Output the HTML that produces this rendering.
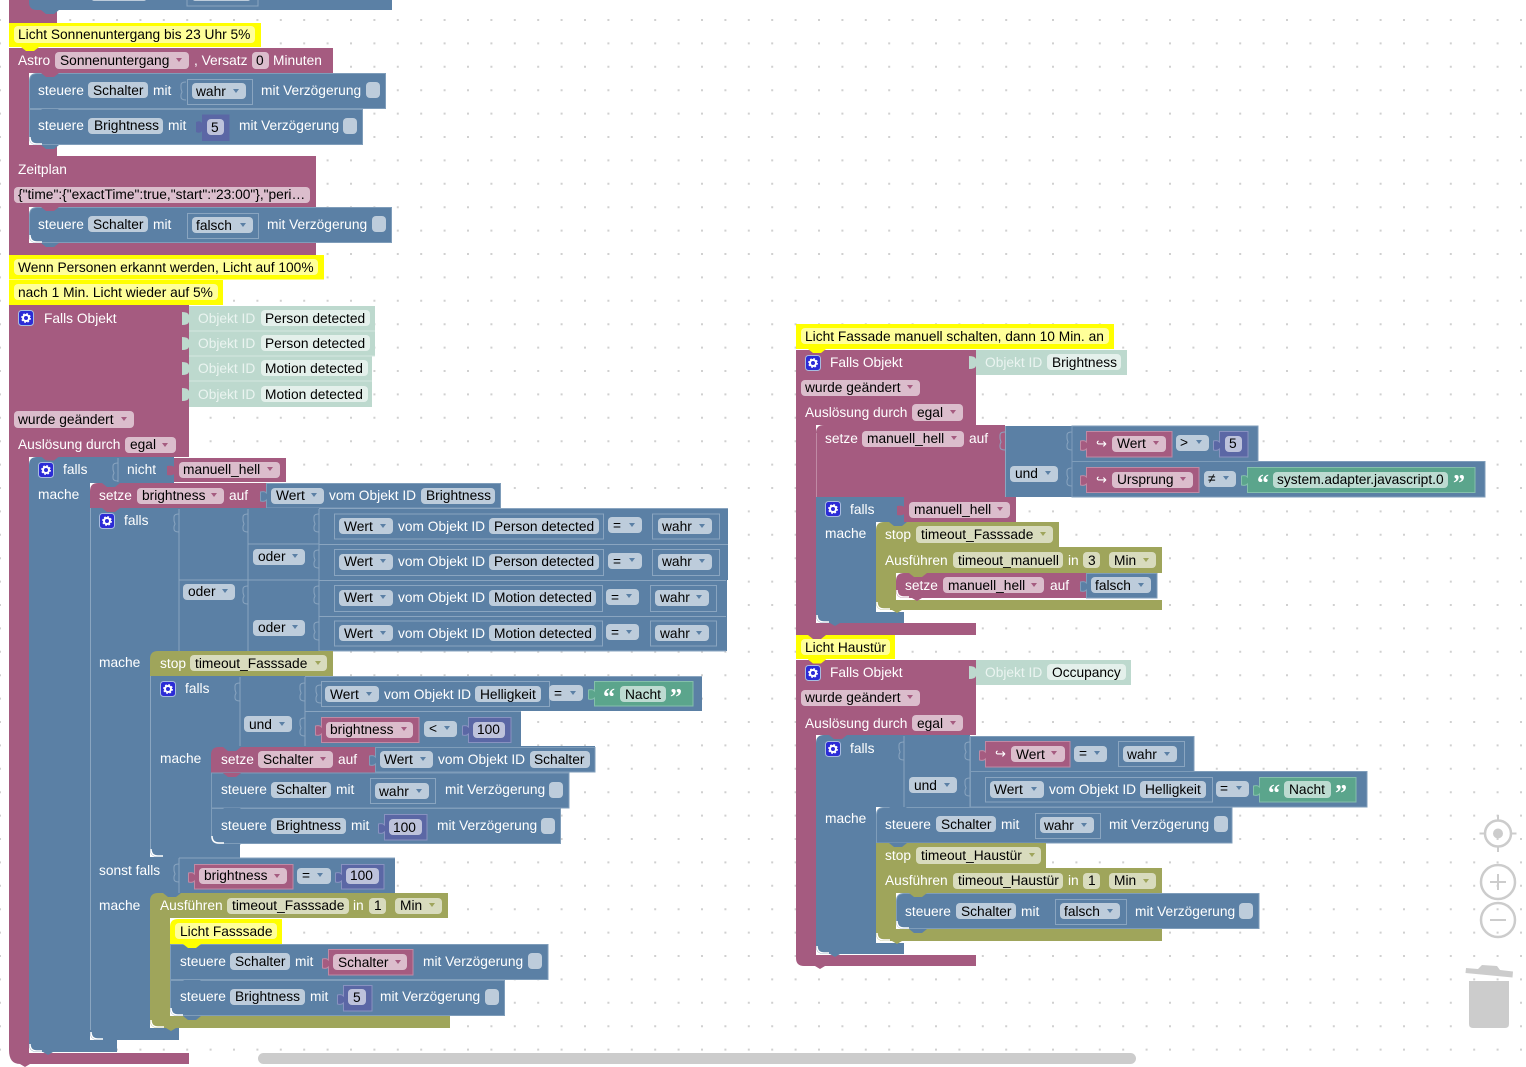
<!DOCTYPE html>
<html><head><meta charset="utf-8"><style>
html,body{margin:0;padding:0;background:#fff;width:1526px;height:1067px;overflow:hidden}
svg{display:block}
text{font:13.75px "Liberation Sans",Arial,sans-serif;fill:#000;white-space:pre}
.w{fill:#fff}.t{fill:#eaf4f0}
.q{font:bold 24px "Liberation Serif",serif;fill:#fff}
.p{fill:#a55b80}.b{fill:#5b80a5}.o{fill:#9fa55b}.y{fill:#ff0}.tl{fill:#bdd9ce}.n{fill:#5b67a5}.g{fill:#5ba58c}
.s{stroke:#7f9dba;stroke-width:1}
.sp{stroke:#c08aa5;stroke-width:1}
.sn{stroke:#8892c0;stroke-width:1}
.sg{stroke:#84c0ab;stroke-width:1}
.bx{fill:#5b80a5;stroke:#8aa5c0;stroke-width:1}
.pb{fill:#bdccdb}.pp{fill:#dbbdcc}.po{fill:#d8dbbd}.pt{fill:#e4f0eb}.py{fill:#ffff99}.pn{fill:#bdc2db}.pg{fill:#bddbd1}
.ab{fill:#5b80a5}.ap{fill:#a55b80}.ao{fill:#9fa55b}
.tb{fill:none;stroke:#8aa5c0;stroke-width:1}
.lin{stroke:#8aa5c0;stroke-width:1;fill:none}
.hl{stroke:#fff;stroke-width:1.5;fill:none}
.c{fill:#ccc}.cs{fill:none;stroke:#ccc}
</style></head><body>
<svg width="1526" height="1067" viewBox="0 0 1526 1067" xmlns="http://www.w3.org/2000/svg">
<defs>
<path id="a" d="M-3,-2H3L0,2z"/>
<path id="bump" d="M0,0l5,4h8l5,-4z"/>
<path id="tab" d="M0,0c-3,0-5,1-5,3v3c0,2 1,3 1,4s-1,1-1,3v2c0,2 2,3 5,3"/>
<g id="gear"><rect x="0.500" y="0.500" width="15" height="15" rx="3" fill="#2b2bd6" stroke="#a8bce0"/><circle cx="8" cy="8" r="3" fill="none" stroke="#fff" stroke-width="2"/><circle cx="8" cy="8" r="4.300" fill="none" stroke="#fff" stroke-width="1.200" stroke-dasharray="1.800 1.600"/></g>
</defs>
<path transform="translate(0,.4)" fill="none" stroke="#d0d0d0" stroke-width="2" stroke-dasharray="2 21.4" d="M-1,19.6H1526M-1,43H1526M-1,66.4H1526M-1,89.8H1526M-1,113.2H1526M-1,136.6H1526M-1,160H1526M-1,183.4H1526M-1,206.8H1526M-1,230.2H1526M-1,253.6H1526M-1,277H1526M-1,300.4H1526M-1,323.8H1526M-1,347.2H1526M-1,370.6H1526M-1,394H1526M-1,417.4H1526M-1,440.8H1526M-1,464.2H1526M-1,487.6H1526M-1,511H1526M-1,534.4H1526M-1,557.8H1526M-1,581.2H1526M-1,604.6H1526M-1,628H1526M-1,651.4H1526M-1,674.8H1526M-1,698.2H1526M-1,721.6H1526M-1,745H1526M-1,768.4H1526M-1,791.8H1526M-1,815.2H1526M-1,838.6H1526M-1,862H1526M-1,885.4H1526M-1,908.8H1526M-1,932.2H1526M-1,955.6H1526M-1,979H1526M-1,1002.4H1526M-1,1025.8H1526M-1,1049.2H1526"/>

<!-- LEFT: top remainder -->
<rect class="p" x="9" y="0" width="48" height="23"/>
<path class="b" d="M29,0H392V10H37Q29,10 29,2z"/>
<use href="#bump" x="41" y="10" class="b"/>
<rect class="bx" x="187" y="-6" width="71" height="12"/>
<rect class="pb" x="92" y="-4" width="54" height="5" rx="2"/>
<rect class="pb" x="193" y="-4" width="57" height="5" rx="2"/>

<!-- Astro body -->
<path class="p" d="M9,48H333V73H29V145H57V157H9z"/>
<rect class="y" x="9" y="23" width="252" height="24"/>
<use href="#bump" x="21" y="47" class="y"/>
<rect class="py" x="14" y="26" width="241" height="17" rx="4"/>
<text x="18" y="39">Licht Sonnenuntergang bis 23 Uhr 5%</text>
<text class="w" x="18" y="65">Astro</text>
<rect class="pp" x="55" y="52" width="134" height="17" rx="4"/><text x="60" y="65">Sonnenuntergang</text><use href="#a" x="179" y="60" class="ap"/>
<text class="w" x="194" y="65">, Versatz</text>
<rect class="pp" x="252" y="52" width="17" height="17" rx="4"/><text x="256" y="65">0</text>
<text class="w" x="273" y="65">Minuten</text>

<!-- steuere 1 -->
<path class="b s" d="M29.5,81Q29.5,73.5 37,73.5H385.5V108.5H29.5z"/>
<use href="#bump" x="41" y="73" class="p"/>
<text class="w" x="38" y="95">steuere</text>
<rect class="pb" x="88" y="82" width="60" height="16" rx="4"/><text x="93" y="95">Schalter</text>
<text class="w" x="153" y="95">mit</text>
<use href="#tab" x="186" y="82" class="tb"/>
<rect class="bx" x="187.5" y="79.5" width="65" height="25"/>
<rect class="pb" x="192" y="83" width="54" height="16" rx="4"/><text x="196" y="96">wahr</text><use href="#a" x="236" y="91" class="ab"/>
<text class="w" x="261" y="95">mit Verzögerung</text>
<rect class="pb" x="366" y="82" width="14" height="16" rx="4"/>
<!-- steuere 2 -->
<path class="b s" d="M29.5,109.5H362.5V144.5H37Q29.5,144.5 29.5,137z"/>
<path class="hl" d="M30,137Q30,144 37,144H42"/>
<use href="#bump" x="41" y="109" class="b"/><use href="#bump" x="41" y="145" class="b"/>
<text class="w" x="38" y="130">steuere</text>
<rect class="pb" x="88" y="118" width="75" height="16" rx="4"/><text x="94" y="130">Brightness</text>
<text class="w" x="168" y="130">mit</text>
<path class="n" d="M202,114.5H229.5V141H202V131q-2,3-6,1v-10q4,-2 6,1z"/>
<rect class="pn" x="207" y="119" width="17" height="16" rx="4"/><text x="211" y="132">5</text>
<text class="w" x="239" y="130">mit Verzögerung</text>
<rect class="pb" x="343" y="118" width="14" height="16" rx="4"/>

<!-- Zeitplan -->
<path class="p" d="M9,156H316V207H29V243H316V255H9z"/>
<use href="#bump" x="21" y="255" class="p"/>
<text class="w" x="18" y="174">Zeitplan</text>
<rect class="pp" x="14" y="187" width="296" height="16" rx="4"/><text x="18" y="199">{"time":{"exactTime":true,"start":"23:00"},"peri…</text>
<path class="b s" d="M29.5,215Q29.5,207.5 37,207.5H391.5V242.5H37Q29.5,242.5 29.5,235z"/>
<path class="hl" d="M30,235Q30,242 37,242H42"/>
<use href="#bump" x="41" y="207" class="p"/><use href="#bump" x="41" y="243" class="b"/>
<text class="w" x="38" y="229">steuere</text>
<rect class="pb" x="88" y="216" width="60" height="16" rx="4"/><text x="93" y="229">Schalter</text>
<text class="w" x="153" y="229">mit</text>
<rect class="bx" x="187.5" y="213.5" width="71" height="25"/>
<rect class="pb" x="192" y="217" width="61" height="16" rx="4"/><text x="196" y="230">falsch</text><use href="#a" x="243" y="225" class="ab"/>
<text class="w" x="267" y="229">mit Verzögerung</text>
<rect class="pb" x="372" y="216" width="14" height="16" rx="4"/>

<!-- comments -->
<rect class="y" x="9" y="255" width="315" height="24.5"/>
<rect class="py" x="14" y="259" width="304" height="16" rx="4"/><text x="18" y="272">Wenn Personen erkannt werden, Licht auf 100%</text>
<rect class="y" x="9" y="280" width="214" height="25"/>
<rect class="py" x="14" y="284" width="204" height="16" rx="4"/><text x="18" y="297">nach 1 Min. Licht wieder auf 5%</text>
<use href="#bump" x="21" y="305" class="y"/>

<!-- Big Falls Objekt -->
<path class="p" d="M9,305H189V457H29V1053H189V1064H30l-5,3-5,-3Q9,1064 9,1050z"/>
<use href="#gear" x="18" y="310"/>
<text class="w" x="44" y="323">Falls Objekt</text>
<g>
<path class="tl" d="M189,306H375V331H189V322q-1,3-7,3v-13q6,0 7,3z"/>
<path class="tl" d="M189,331H375V356H189V347q-1,3-7,3v-13q6,0 7,3z"/>
<path class="tl" d="M189,356H372V381H189V372q-1,3-7,3v-13q6,0 7,3z"/>
<path class="tl" d="M189,381H372V407H189V398q-1,3-7,3v-13q6,0 7,3z"/>
<path d="M189,331H375M189,356H375M189,381H372" stroke="#d5e8e0" fill="none"/>
<text class="t" x="198" y="323">Objekt ID</text><rect class="pt" x="261" y="310" width="109" height="16" rx="4"/><text x="265" y="323">Person detected</text>
<text class="t" x="198" y="348">Objekt ID</text><rect class="pt" x="261" y="335" width="109" height="16" rx="4"/><text x="265" y="348">Person detected</text>
<text class="t" x="198" y="373">Objekt ID</text><rect class="pt" x="261" y="360" width="107" height="16" rx="4"/><text x="265" y="373">Motion detected</text>
<text class="t" x="198" y="399">Objekt ID</text><rect class="pt" x="261" y="386" width="107" height="16" rx="4"/><text x="265" y="399">Motion detected</text>
</g>
<rect class="pp" x="14" y="411" width="120" height="17" rx="4"/><text x="18" y="424">wurde geändert</text><use href="#a" x="124" y="419" class="ap"/>
<text class="w" x="18" y="449">Auslösung durch</text>
<rect class="pp" x="125" y="437" width="51" height="16" rx="4"/><text x="130" y="449">egal</text><use href="#a" x="165" y="445" class="ap"/>

<!-- falls 1 -->
<path class="b" d="M29,465Q29,457 37,457H174V483H90V1040H117V1052H53l-5,3-5,-3H37Q29,1052 29,1044z"/>
<path class="hl" d="M30,1044Q30,1051 37,1051H42"/>
<path class="lin" d="M118,458V482"/>
<use href="#tab" x="118" y="463" class="tb"/>
<use href="#bump" x="41" y="456.5" class="p"/>
<use href="#gear" x="38" y="462"/>
<text class="w" x="63" y="474">falls</text>
<text class="w" x="127" y="474">nicht</text>
<path class="p" d="M174,458H286V482H174V474q-2,2-7,1v-9q5,-1 7,1z"/>
<rect class="pp" x="179" y="462" width="101" height="16" rx="4"/><text x="183" y="474">manuell_hell</text><use href="#a" x="270" y="469" class="ap"/>
<text class="w" x="38" y="499">mache</text>

<!-- setze brightness -->
<path class="p" d="M90,491Q90,483 98,483H266V508H90z"/>
<use href="#bump" x="102" y="483" class="b"/>
<text class="w" x="99" y="500">setze</text>
<rect class="pp" x="137" y="488" width="87" height="16" rx="4"/><text x="142" y="500">brightness</text><use href="#a" x="214" y="495" class="ap"/>
<text class="w" x="229" y="500">auf</text>
<path class="b s" d="M266.5,483.5H500.5V508H266.5V500q-2,2-6,1v-9q4,-1 6,1z"/>
<rect class="pb" x="271" y="488" width="53" height="16" rx="4"/><text x="276" y="500">Wert</text><use href="#a" x="314" y="495" class="ab"/>
<text class="w" x="329" y="500">vom Objekt ID</text>
<rect class="pb" x="421" y="488" width="74" height="16" rx="4"/><text x="426" y="500">Brightness</text>

<!-- falls 2 body -->
<path class="b" d="M90,508H728V651H333V676H150V1028H179V1040H114l-5,3-5,-3H98Q90,1040 90,1032z"/>
<path class="hl" d="M91,1032Q91,1039 98,1039H103"/>
<use href="#bump" x="102" y="508" class="p"/>
<path class="lin" d="M90.500,508V1030M179,509V651M248,509V651M319,509V651M179,580H319M248,544H319M319,508.500H728M319,544.500H728M319,580.500H726M319,616.500H726M319,651H726"/>
<rect fill="#fff" x="727" y="580" width="2" height="72"/>
<use href="#tab" x="179" y="514" class="tb"/><use href="#tab" x="248" y="514" class="tb"/><use href="#tab" x="319" y="514" class="tb"/>
<use href="#tab" x="248" y="586" class="tb"/><use href="#tab" x="319" y="550" class="tb"/><use href="#tab" x="319" y="586" class="tb"/><use href="#tab" x="319" y="622" class="tb"/>
<use href="#gear" x="99" y="513"/>
<text class="w" x="124" y="525">falls</text>
<rect class="pb" x="253" y="549" width="52" height="16" rx="4"/><text x="258" y="561">oder</text><use href="#a" x="295" y="556" class="ab"/>
<rect class="pb" x="183" y="584" width="52" height="16" rx="4"/><text x="188" y="596">oder</text><use href="#a" x="225" y="591" class="ab"/>
<rect class="pb" x="253" y="620" width="52" height="16" rx="4"/><text x="258" y="632">oder</text><use href="#a" x="295" y="627" class="ab"/>

<!-- row 1 -->
<rect class="bx" x="334.500" y="514" width="269" height="25"/>
<rect class="pb" x="339" y="518" width="54" height="16" rx="4"/><text x="344" y="531">Wert</text><use href="#a" x="383" y="526" class="ab"/>
<text class="w" x="398" y="531">vom Objekt ID</text>
<rect class="pb" x="489" y="518" width="110" height="16" rx="4"/><text x="494" y="531">Person detected</text>
<rect class="pb" x="608" y="517" width="34" height="16" rx="4"/><text x="613" y="530">=</text><use href="#a" x="632" y="525" class="ab"/>
<rect class="bx" x="652.500" y="514" width="67" height="25"/>
<rect class="pb" x="658" y="518" width="54" height="16" rx="4"/><text x="662" y="531">wahr</text><use href="#a" x="702" y="526" class="ab"/>
<!-- row 2 -->
<rect class="bx" x="334.500" y="549.500" width="269" height="26"/>
<rect class="pb" x="339" y="554" width="54" height="16" rx="4"/><text x="344" y="566">Wert</text><use href="#a" x="383" y="561" class="ab"/>
<text class="w" x="398" y="566">vom Objekt ID</text>
<rect class="pb" x="489" y="554" width="110" height="16" rx="4"/><text x="494" y="566">Person detected</text>
<rect class="pb" x="608" y="553" width="34" height="16" rx="4"/><text x="613" y="566">=</text><use href="#a" x="632" y="560" class="ab"/>
<rect class="bx" x="652.500" y="549.500" width="67" height="26"/>
<rect class="pb" x="658" y="554" width="54" height="16" rx="4"/><text x="662" y="566">wahr</text><use href="#a" x="702" y="561" class="ab"/>
<!-- row 3 -->
<rect class="bx" x="334.500" y="585.500" width="268" height="26"/>
<rect class="pb" x="339" y="590" width="54" height="16" rx="4"/><text x="344" y="602">Wert</text><use href="#a" x="383" y="597" class="ab"/>
<text class="w" x="398" y="602">vom Objekt ID</text>
<rect class="pb" x="489" y="590" width="107" height="16" rx="4"/><text x="494" y="602">Motion detected</text>
<rect class="pb" x="606" y="589" width="33" height="16" rx="4"/><text x="611" y="602">=</text><use href="#a" x="629" y="596" class="ab"/>
<rect class="bx" x="650.500" y="585.500" width="66" height="26"/>
<rect class="pb" x="655" y="590" width="54" height="16" rx="4"/><text x="660" y="602">wahr</text><use href="#a" x="699" y="597" class="ab"/>
<!-- row 4 -->
<rect class="bx" x="334.500" y="621" width="268" height="25"/>
<rect class="pb" x="339" y="625" width="54" height="16" rx="4"/><text x="344" y="638">Wert</text><use href="#a" x="383" y="633" class="ab"/>
<text class="w" x="398" y="638">vom Objekt ID</text>
<rect class="pb" x="489" y="625" width="107" height="16" rx="4"/><text x="494" y="638">Motion detected</text>
<rect class="pb" x="606" y="624" width="33" height="16" rx="4"/><text x="611" y="637">=</text><use href="#a" x="629" y="632" class="ab"/>
<rect class="bx" x="650.500" y="621" width="66" height="25"/>
<rect class="pb" x="655" y="625" width="54" height="16" rx="4"/><text x="660" y="638">wahr</text><use href="#a" x="699" y="633" class="ab"/>

<text class="w" x="99" y="667">mache</text>
<!-- stop -->
<path class="o" d="M150,659Q150,651 158,651H333V676H150z"/>
<use href="#bump" x="163" y="676" class="o"/>
<text class="w" x="160" y="668">stop</text>
<rect class="po" x="190" y="655" width="137" height="16" rx="4"/><text x="195" y="668">timeout_Fasssade</text><use href="#a" x="318" y="663" class="ao"/>

<!-- falls 3 -->
<path class="b" d="M150,676H702V711H521V746H595V772H569V808H561V844H240V857H174l-5,3-5,-3H158Q150,857 150,849z"/>
<path class="hl" d="M151,849Q151,856 158,856H163"/>
<path class="lin" d="M150.500,676V849M240,677V746M305,677V746M305,711.500H521M305,676.500H702"/>
<use href="#tab" x="240" y="683" class="tb"/><use href="#tab" x="305" y="683" class="tb"/><use href="#tab" x="305" y="718" class="tb"/><use href="#tab" x="321" y="685" class="tb"/>
<use href="#gear" x="160" y="681"/>
<text class="w" x="185" y="693">falls</text>
<rect class="pb" x="244" y="716" width="48" height="16" rx="4"/><text x="249" y="729">und</text><use href="#a" x="282" y="724" class="ab"/>
<rect class="bx" x="321.500" y="681.500" width="228" height="25"/>
<rect class="pb" x="325" y="686" width="54" height="16" rx="4"/><text x="330" y="699">Wert</text><use href="#a" x="369" y="694" class="ab"/>
<text class="w" x="384" y="699">vom Objekt ID</text>
<rect class="pb" x="475" y="686" width="66" height="16" rx="4"/><text x="480" y="699">Helligkeit</text>
<rect class="pb" x="549" y="685" width="34" height="16" rx="4"/><text x="554" y="698">=</text><use href="#a" x="573" y="693" class="ab"/>
<path class="g sg" d="M594.500,681.500H693V706H594.500V698q-2,2-6,1v-9q4,-1 6,1z"/>
<text class="q" x="603" y="705">“</text>
<rect class="pg" x="620" y="686" width="46" height="16" rx="4"/><text x="625" y="699">Nacht</text>
<text class="q" x="670" y="705">”</text>
<path class="p sp" d="M321.500,717.500H419V742.500H321.500V734q-2,2-6,1v-9q4,-1 6,1z"/>
<rect class="pp" x="326" y="722" width="87" height="16" rx="4"/><text x="330" y="734">brightness</text><use href="#a" x="404" y="729" class="ap"/>
<rect class="pb" x="424" y="721" width="33" height="16" rx="4"/><text x="429" y="733">&lt;</text><use href="#a" x="447" y="728" class="ab"/>
<path class="n sn" d="M468.500,717.500H511V742.500H468.500V734q-2,2-6,1v-9q4,-1 6,1z"/>
<rect class="pn" x="473" y="722" width="32" height="16" rx="4"/><text x="477" y="734">100</text>

<text class="w" x="160" y="763">mache</text>
<!-- setze Schalter -->
<path class="p" d="M211,755Q211,747 219,747H375V773H211z"/>
<use href="#bump" x="223" y="773" class="p"/>
<use href="#bump" x="223" y="747" class="b"/>
<text class="w" x="221" y="764">setze</text>
<rect class="pp" x="258" y="751" width="75" height="17" rx="4"/><text x="263" y="764">Schalter</text><use href="#a" x="323" y="759" class="ap"/>
<text class="w" x="338" y="764">auf</text>
<path class="b s" d="M375.500,747.500H595V772H375.500V764q-2,2-6,1v-9q4,-1 6,1z"/>
<rect class="pb" x="380" y="751" width="53" height="17" rx="4"/><text x="384" y="764">Wert</text><use href="#a" x="423" y="759" class="ab"/>
<text class="w" x="438" y="764">vom Objekt ID</text>
<rect class="pb" x="530" y="751" width="60" height="17" rx="4"/><text x="534" y="764">Schalter</text>
<!-- steuere 3 -->
<rect class="b s" x="211.500" y="773" width="357.500" height="35"/>
<use href="#bump" x="223" y="773" class="p"/>
<text class="w" x="221" y="794">steuere</text>
<rect class="pb" x="271" y="782" width="60" height="16" rx="4"/><text x="276" y="794">Schalter</text>
<text class="w" x="336" y="794">mit</text>
<rect class="bx" x="370.500" y="778.500" width="65" height="25"/>
<rect class="pb" x="375" y="783" width="54" height="16" rx="4"/><text x="379" y="796">wahr</text><use href="#a" x="419" y="791" class="ab"/>
<text class="w" x="445" y="794">mit Verzögerung</text>
<rect class="pb" x="549" y="782" width="14" height="16" rx="4"/>
<!-- steuere 4 -->
<path class="b s" d="M211.500,808.500H560.500V843.500H219Q211.500,843.500 211.500,836z"/>
<path class="hl" d="M212,836Q212,843 219,843H224"/>
<use href="#bump" x="223" y="808" class="b"/><use href="#bump" x="223" y="844" class="b"/>
<text class="w" x="221" y="830">steuere</text>
<rect class="pb" x="271" y="818" width="75" height="16" rx="4"/><text x="276" y="830">Brightness</text>
<text class="w" x="351" y="830">mit</text>
<path class="n sn" d="M384.500,814.500H427V840H384.500V832q-2,2-6,1v-9q4,-1 6,1z"/>
<rect class="pn" x="389" y="819" width="33" height="16" rx="4"/><text x="393" y="832">100</text>
<text class="w" x="437" y="830">mit Verzögerung</text>
<rect class="pb" x="541" y="818" width="14" height="16" rx="4"/>

<!-- sonst falls -->
<path class="b" d="M150,857H395V893H448V918H150z"/>
<rect class="b" x="90" y="851" width="60" height="60"/>
<path class="lin" d="M90.500,851V911"/>
<path fill="#fff" d="M240,844.500H410V858H240z"/>
<path class="b" d="M164,857l5,3 5,-3z"/>
<rect class="b" x="179" y="858" width="216" height="35"/>
<path class="lin" d="M179,858H395M179,858V893"/>
<use href="#tab" x="179" y="864" class="tb"/>
<text class="w" x="99" y="875">sonst falls</text>
<path class="p sp" d="M194.500,864.500H293V889H194.500V881q-2,2-6,1v-9q4,-1 6,1z"/>
<rect class="pp" x="199" y="868" width="88" height="16" rx="4"/><text x="204" y="880">brightness</text><use href="#a" x="277" y="876" class="ap"/>
<rect class="pb" x="297" y="868" width="34" height="16" rx="4"/><text x="302" y="880">=</text><use href="#a" x="320" y="875" class="ab"/>
<path class="n sn" d="M341.500,864.500H384V889H341.500V881q-2,2-6,1v-9q4,-1 6,1z"/>
<rect class="pn" x="346" y="868" width="33" height="16" rx="4"/><text x="350" y="880">100</text>

<text class="w" x="99" y="910">mache</text>
<!-- Ausführen -->
<path class="o" d="M150,901Q150,893 158,893H448V918H170V1016H450V1028H176l-5,3-5,-3H158Q150,1028 150,1020z"/>
<path class="hl" d="M151,1020Q151,1027 158,1027H164"/>
<use href="#bump" x="163" y="893" class="b"/>
<text class="w" x="160" y="910">Ausführen</text>
<rect class="po" x="227" y="898" width="122" height="16" rx="4"/><text x="232" y="910">timeout_Fasssade</text>
<text class="w" x="353" y="910">in</text>
<rect class="po" x="369" y="898" width="17" height="16" rx="4"/><text x="374" y="910">1</text>
<rect class="po" x="395" y="898" width="47" height="16" rx="4"/><text x="400" y="910">Min</text><use href="#a" x="432" y="905" class="ao"/>
<!-- comment -->
<path class="y" d="M170,927Q170,919 178,919H282V944H170z"/>
<rect class="py" x="175" y="923" width="102" height="16" rx="4"/><text x="180" y="936">Licht Fasssade</text>
<!-- steuere -->
<rect class="b s" x="170.500" y="944.500" width="377.500" height="35"/>
<use href="#bump" x="183" y="944" class="y"/>
<text class="w" x="180" y="966">steuere</text>
<rect class="pb" x="230" y="953" width="60" height="17" rx="4"/><text x="235" y="966">Schalter</text>
<text class="w" x="295" y="966">mit</text>
<path class="p sp" d="M328.500,949.500H413V975H328.500V967q-2,2-6,1v-9q4,-1 6,1z"/>
<rect class="pp" x="333" y="954" width="74" height="16" rx="4"/><text x="338" y="967">Schalter</text><use href="#a" x="398" y="962" class="ap"/>
<text class="w" x="423" y="966">mit Verzögerung</text>
<rect class="pb" x="528" y="953" width="14" height="16" rx="4"/>
<path class="b s" d="M170.500,980.500H504.500V1015.500H178Q170.500,1015.500 170.500,1008z"/>
<path class="hl" d="M171,1008Q171,1015 178,1015H183"/>
<use href="#bump" x="183" y="980" class="b"/><use href="#bump" x="183" y="1016" class="b"/>
<text class="w" x="180" y="1001">steuere</text>
<rect class="pb" x="230" y="989" width="75" height="16" rx="4"/><text x="235" y="1001">Brightness</text>
<text class="w" x="310" y="1001">mit</text>
<path class="n sn" d="M343.500,985.500H372V1011H343.500V1003q-2,2-6,1v-9q4,-1 6,1z"/>
<rect class="pn" x="348" y="989" width="18" height="16" rx="4"/><text x="353" y="1002">5</text>
<text class="w" x="380" y="1001">mit Verzögerung</text>
<rect class="pb" x="485" y="989" width="14" height="16" rx="4"/>

<!-- RIGHT GROUP 1 -->
<path class="p" d="M796,350H976V425H816V612V623H976V635H796z"/>
<rect class="y" x="796" y="324" width="318" height="25"/>
<use href="#bump" x="808" y="349" class="y"/>
<rect class="py" x="801" y="328" width="308" height="16" rx="4"/><text x="805" y="341">Licht Fassade manuell schalten, dann 10 Min. an</text>
<use href="#gear" x="805" y="355"/>
<text class="w" x="830" y="367">Falls Objekt</text>
<path class="tl" d="M976,350H1127V375H976V366q-1,3-7,3v-13q6,0 7,3z"/>
<text class="t" x="985" y="367">Objekt ID</text>
<rect class="pt" x="1047" y="354" width="74" height="16" rx="4"/><text x="1052" y="367">Brightness</text>
<rect class="pp" x="801" y="380" width="119" height="16" rx="4"/><text x="805" y="392">wurde geändert</text><use href="#a" x="910" y="387" class="ap"/>
<text class="w" x="805" y="417">Auslösung durch</text>
<rect class="pp" x="912" y="404" width="51" height="17" rx="4"/><text x="917" y="417">egal</text><use href="#a" x="953" y="412" class="ap"/>

<!-- setze manuell_hell -->
<path class="p" d="M816,433Q816,425 824,425H1005V497H816z"/>
<path class="sp" fill="none" d="M816.500,433V497"/>
<use href="#bump" x="829" y="425" class="p"/>
<text class="w" x="825" y="443">setze</text>
<rect class="pp" x="862" y="431" width="102" height="16" rx="4"/><text x="867" y="443">manuell_hell</text><use href="#a" x="954" y="438" class="ap"/>
<text class="w" x="969" y="443">auf</text>
<rect class="b" x="1005" y="426" width="67" height="71"/>
<path class="lin" d="M1005.500,426V497M1072,426V497"/>
<use href="#tab" x="1005" y="432" class="tb"/><use href="#tab" x="1072" y="432" class="tb"/><use href="#tab" x="1072" y="468" class="tb"/>
<rect class="pb" x="1010" y="466" width="48" height="16" rx="4"/><text x="1015" y="478">und</text><use href="#a" x="1048" y="473" class="ab"/>
<rect class="b s" x="1072" y="426" width="186" height="35.500"/>
<rect class="b s" x="1072" y="461.500" width="413" height="35.500"/>
<path class="p sp" d="M1086.500,431.500H1172V457H1086.500V449q-2,2-6,1v-9q4,-1 6,1z"/>
<text class="w" x="1096" y="448" style="font-size:13px">↪</text>
<rect class="pp" x="1112" y="436" width="54" height="16" rx="4"/><text x="1117" y="448">Wert</text><use href="#a" x="1156" y="443" class="ap"/>
<rect class="pb" x="1176" y="435" width="33" height="16" rx="4"/><text x="1180" y="447">&gt;</text><use href="#a" x="1199" y="442" class="ab"/>
<path class="n sn" d="M1219.500,431.500H1248V457H1219.500V449q-2,2-6,1v-9q4,-1 6,1z"/>
<rect class="pn" x="1225" y="436" width="17" height="16" rx="4"/><text x="1229" y="448">5</text>
<path class="p sp" d="M1086.500,467.500H1199V492.500H1086.500V484q-2,2-6,1v-9q4,-1 6,1z"/>
<text class="w" x="1096" y="484" style="font-size:13px">↪</text>
<rect class="pp" x="1112" y="472" width="81" height="16" rx="4"/><text x="1117" y="484">Ursprung</text><use href="#a" x="1183" y="479" class="ap"/>
<rect class="pb" x="1204" y="471" width="32" height="16" rx="4"/><text x="1208" y="483">≠</text><use href="#a" x="1226" y="478" class="ab"/>
<path class="g sg" d="M1247.500,467.500H1475V492.500H1247.500V484q-2,2-6,1v-9q4,-1 6,1z"/>
<text class="q" x="1257" y="491">“</text>
<rect class="pg" x="1273" y="472" width="175" height="16" rx="4"/><text x="1277" y="484">system.adapter.javascript.0</text>
<text class="q" x="1453" y="491">”</text>

<!-- falls right 1 -->
<path class="b" d="M816,497H904V522H876V612H904V623H840l-5,3-5,-3H824Q816,623 816,615z"/>
<path class="hl" d="M817,615Q817,622 824,622H829"/>
<use href="#gear" x="825" y="501"/>
<text class="w" x="850" y="514">falls</text>
<path class="p" d="M904,497H1016V522H904V514q-2,2-7,1v-9q5,-1 7,1z"/>
<rect class="pp" x="909" y="502" width="101" height="16" rx="4"/><text x="914" y="514">manuell_hell</text><use href="#a" x="1000" y="509" class="ap"/>
<text class="w" x="825" y="538">mache</text>
<path class="o" d="M876,530Q876,522 884,522H1059V547H876z"/>
<use href="#bump" x="889" y="522" class="b"/>
<text class="w" x="885" y="539">stop</text>
<rect class="po" x="916" y="526" width="137" height="17" rx="4"/><text x="921" y="539">timeout_Fasssade</text><use href="#a" x="1043" y="534" class="ao"/>
<path class="o" d="M876,547H1162V573H896V600H1162V610H902l-5,3-5,-3H884Q876,610 876,602z"/>
<path class="hl" d="M877,602Q877,609 884,609H890"/>
<use href="#bump" x="889" y="547" class="o"/>
<text class="w" x="885" y="565">Ausführen</text>
<rect class="po" x="953" y="552" width="110" height="16" rx="4"/><text x="958" y="565">timeout_manuell</text>
<text class="w" x="1068" y="565">in</text>
<rect class="po" x="1083" y="552" width="17" height="16" rx="4"/><text x="1088" y="565">3</text>
<rect class="po" x="1109" y="552" width="47" height="16" rx="4"/><text x="1114" y="565">Min</text><use href="#a" x="1146" y="560" class="ao"/>
<path class="p" d="M896,581Q896,573 904,573H1086V598H922l-5,3-5,-3H904Q896,598 896,590z"/>
<path class="hl" d="M897,590Q897,597 904,597H909"/>
<use href="#bump" x="909" y="573" class="o"/>
<text class="w" x="905" y="590">setze</text>
<rect class="pp" x="943" y="577" width="101" height="16" rx="4"/><text x="948" y="590">manuell_hell</text><use href="#a" x="1034" y="585" class="ap"/>
<text class="w" x="1050" y="590">auf</text>
<path class="b s" d="M1086.500,573.500H1157V598H1086.500V590q-2,2-6,1v-9q4,-1 6,1z"/>
<rect class="pb" x="1091" y="577" width="60" height="16" rx="4"/><text x="1095" y="590">falsch</text><use href="#a" x="1141" y="585" class="ab"/>

<!-- comment Haustuer -->
<rect class="y" x="796" y="635" width="99" height="24"/>
<use href="#bump" x="808" y="635" class="p"/>
<use href="#bump" x="808" y="659" class="y"/>
<rect class="py" x="801" y="639" width="89" height="16" rx="4"/><text x="805" y="652">Licht Haustür</text>

<!-- RIGHT GROUP 2 -->
<path class="p" d="M796,660H976V735H816V943V955H976V966H825l-5,3-5,-3H804Q796,966 796,958z"/>
<use href="#bump" x="808" y="659.500" class="y"/>
<use href="#gear" x="805" y="665"/>
<text class="w" x="830" y="677">Falls Objekt</text>
<path class="tl" d="M976,660H1131V685H976V676q-1,3-7,3v-13q6,0 7,3z"/>
<text class="t" x="985" y="677">Objekt ID</text>
<rect class="pt" x="1047" y="664" width="79" height="16" rx="4"/><text x="1052" y="677">Occupancy</text>
<rect class="pp" x="801" y="690" width="119" height="16" rx="4"/><text x="805" y="702">wurde geändert</text><use href="#a" x="910" y="697" class="ap"/>
<text class="w" x="805" y="728">Auslösung durch</text>
<rect class="pp" x="912" y="715" width="51" height="16" rx="4"/><text x="917" y="728">egal</text><use href="#a" x="953" y="723" class="ap"/>

<path class="b" d="M816,743Q816,735 824,735H970V807H876V943H904V954H840l-5,3-5,-3H824Q816,954 816,946z"/>
<path class="hl" d="M817,946Q817,953 824,953H829"/>
<use href="#bump" x="829" y="735" class="p"/>
<path class="lin" d="M904,736V807M970,736V807"/>
<use href="#tab" x="904" y="742" class="tb"/><use href="#tab" x="970" y="742" class="tb"/><use href="#tab" x="970" y="778" class="tb"/>
<use href="#gear" x="825" y="741"/>
<text class="w" x="850" y="753">falls</text>
<rect class="pb" x="909" y="777" width="48" height="16" rx="4"/><text x="914" y="790">und</text><use href="#a" x="947" y="785" class="ab"/>
<text class="w" x="825" y="823">mache</text>
<rect class="b s" x="970.500" y="736.500" width="223.500" height="35"/>
<rect class="b s" x="970.500" y="771.500" width="396.500" height="35.500"/>
<path class="p sp" d="M985.500,741.500H1070V767H985.500V759q-2,2-6,1v-9q4,-1 6,1z"/>
<text class="w" x="995" y="758" style="font-size:13px">↪</text>
<rect class="pp" x="1011" y="746" width="54" height="16" rx="4"/><text x="1016" y="759">Wert</text><use href="#a" x="1054" y="753" class="ap"/>
<rect class="pb" x="1074" y="746" width="33" height="16" rx="4"/><text x="1079" y="758">=</text><use href="#a" x="1097" y="753" class="ab"/>
<rect class="bx" x="1118.500" y="741.500" width="66" height="25"/>
<rect class="pb" x="1123" y="746" width="54" height="16" rx="4"/><text x="1127" y="759">wahr</text><use href="#a" x="1167" y="754" class="ab"/>
<rect class="bx" x="985.500" y="777.500" width="227" height="24.500"/>
<rect class="pb" x="990" y="781" width="54" height="17" rx="4"/><text x="994" y="794">Wert</text><use href="#a" x="1034" y="789" class="ab"/>
<text class="w" x="1049" y="794">vom Objekt ID</text>
<rect class="pb" x="1140" y="781" width="66" height="17" rx="4"/><text x="1145" y="794">Helligkeit</text>
<rect class="pb" x="1216" y="781" width="33" height="16" rx="4"/><text x="1220" y="793">=</text><use href="#a" x="1239" y="788" class="ab"/>
<path class="g sg" d="M1259.500,777.500H1356V802H1259.500V794q-2,2-6,1v-9q4,-1 6,1z"/>
<text class="q" x="1268" y="801">“</text>
<rect class="pg" x="1284" y="781" width="47" height="17" rx="4"/><text x="1289" y="794">Nacht</text>
<text class="q" x="1335" y="801">”</text>

<!-- steuere right -->
<path class="b s" d="M876.500,815Q876.500,807.500 884,807.500H1232V843H876.500z"/>
<use href="#bump" x="889" y="807" class="b"/>
<text class="w" x="885" y="829">steuere</text>
<rect class="pb" x="936" y="816" width="60" height="16" rx="4"/><text x="941" y="829">Schalter</text>
<text class="w" x="1001" y="829">mit</text>
<rect class="bx" x="1035.500" y="813.500" width="65" height="25"/>
<rect class="pb" x="1040" y="817" width="54" height="16" rx="4"/><text x="1044" y="830">wahr</text><use href="#a" x="1084" y="825" class="ab"/>
<text class="w" x="1109" y="829">mit Verzögerung</text>
<rect class="pb" x="1214" y="816" width="14" height="16" rx="4"/>
<rect class="o" x="876" y="843" width="170" height="25"/>
<use href="#bump" x="889" y="843" class="b"/>
<text class="w" x="885" y="860">stop</text>
<rect class="po" x="916" y="847" width="125" height="17" rx="4"/><text x="921" y="860">timeout_Haustür</text><use href="#a" x="1032" y="855" class="ao"/>
<path class="o" d="M876,868H1162V893H896V929H1162V941H902l-5,3-5,-3H884Q876,941 876,933z"/>
<path class="hl" d="M877,933Q877,940 884,940H890"/>
<use href="#bump" x="889" y="868" class="o"/>
<text class="w" x="885" y="885">Ausführen</text>
<rect class="po" x="953" y="873" width="110" height="16" rx="4"/><text x="958" y="885">timeout_Haustür</text>
<text class="w" x="1068" y="885">in</text>
<rect class="po" x="1083" y="873" width="17" height="16" rx="4"/><text x="1088" y="885">1</text>
<rect class="po" x="1109" y="873" width="47" height="16" rx="4"/><text x="1114" y="885">Min</text><use href="#a" x="1146" y="881" class="ao"/>
<path class="b s" d="M896.500,901Q896.500,893.500 904,893.500H1259V928.500H904Q896.500,928.500 896.500,921z"/>
<path class="hl" d="M897,921Q897,928 904,928H909"/>
<use href="#bump" x="909" y="893" class="o"/><use href="#bump" x="909" y="929" class="b"/>
<text class="w" x="905" y="916">steuere</text>
<rect class="pb" x="956" y="903" width="60" height="16" rx="4"/><text x="961" y="916">Schalter</text>
<text class="w" x="1021" y="916">mit</text>
<rect class="bx" x="1055.500" y="899.500" width="71" height="25"/>
<rect class="pb" x="1060" y="903" width="60" height="16" rx="4"/><text x="1064" y="916">falsch</text><use href="#a" x="1110" y="911" class="ab"/>
<text class="w" x="1135" y="916">mit Verzögerung</text>
<rect class="pb" x="1239" y="903" width="14" height="16" rx="4"/>

<!-- scrollbar -->
<rect class="c" x="258" y="1053" width="878" height="11" rx="5.500"/>

<!-- controls -->
<g>
<circle class="cs" cx="1498" cy="833.500" r="13" stroke-width="2.500"/>
<circle class="c" cx="1498" cy="833.500" r="5"/>
<path class="cs" stroke-width="2" d="M1498,815V820.500M1498,846.500V852M1479.500,833.500H1485M1511,833.500H1516.500"/>
<circle class="cs" cx="1498" cy="882" r="17" stroke-width="2.500"/>
<path class="cs" stroke-width="2" d="M1490,882H1506M1498,874V890"/>
<circle class="cs" cx="1498" cy="920" r="17" stroke-width="2.500"/>
<path class="cs" stroke-width="2" d="M1490,920H1506"/>
<path class="c" d="M1466,968L1478,969L1482,965L1497,966L1500,970L1513,971.500L1512.500,977.500L1465.500,973z"/>
<path class="c" d="M1469,981H1509V1024Q1509,1028 1505,1028H1473Q1469,1028 1469,1024z"/>
</g>
</svg>
</body></html>
